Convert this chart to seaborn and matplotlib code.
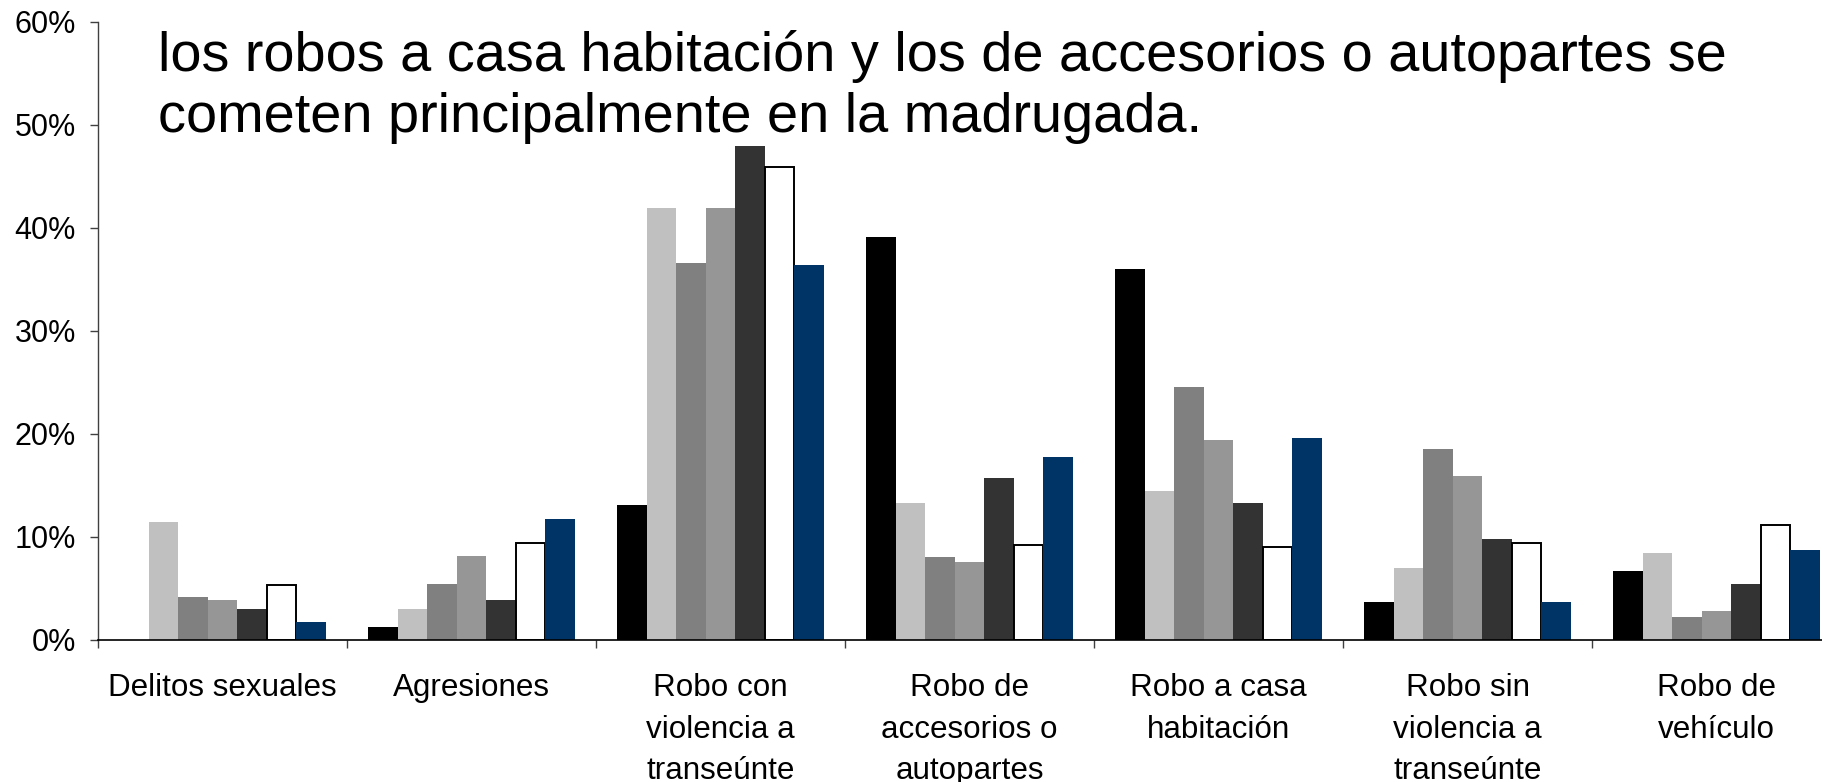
import pandas as pd
import seaborn as sns
import matplotlib.pyplot as plt
from matplotlib.ticker import FuncFormatter, FixedLocator


CATEGORIES = [
    "Delitos sexuales",
    "Agresiones",
    "Robo con\nviolencia a\ntranseúnte",
    "Robo de\naccesorios o\nautopartes",
    "Robo a casa\nhabitación",
    "Robo sin\nviolencia a\ntranseúnte",
    "Robo de\nvehículo",
]
SERIES = ["Serie 1", "Serie 2", "Serie 3", "Serie 4", "Serie 5", "Serie 6", "Serie 7"]

# percentages, one list per series
serie_1 = [0.0, 1.3, 13.1, 39.1, 36.0, 3.7, 6.7]
serie_2 = [11.5, 3.0, 41.9, 13.3, 14.5, 7.0, 8.4]
serie_3 = [4.2, 5.4, 36.6, 8.1, 24.6, 18.5, 2.2]
serie_4 = [3.9, 8.2, 41.9, 7.6, 19.4, 15.9, 2.8]
serie_5 = [3.0, 3.9, 48.0, 15.7, 13.3, 9.8, 5.4]
serie_6 = [5.3, 9.4, 45.9, 9.2, 9.0, 9.4, 11.2]
serie_7 = [1.7, 11.7, 36.4, 17.8, 19.6, 3.7, 8.7]

COLORS = ["#000000", "#C0C0C0", "#808080", "#969696", "#333333", "#FFFFFF", "#003366"]

TITLE_LINES = [
    "los robos a casa habitación y los de accesorios o autopartes se",
    "cometen principalmente en la madrugada.",
]


def build_frame():
    values = [serie_1, serie_2, serie_3, serie_4, serie_5, serie_6, serie_7]
    rows = []
    for name, vals in zip(SERIES, values):
        for cat, v in zip(CATEGORIES, vals):
            rows.append({"delito": cat, "serie": name, "pct": v})
    return pd.DataFrame(rows)


def plot(df):
    sns.set_style("white")
    plt.rcParams["font.family"] = ["Liberation Sans", "DejaVu Sans"]
    for key in ["text.color", "axes.labelcolor", "xtick.labelcolor", "ytick.labelcolor"]:
        plt.rcParams[key] = "black"

    fig = plt.figure(figsize=(18.22, 7.82), dpi=100)
    ax = fig.add_axes([0.0538, 0.1816, 0.9567, 0.7903])

    sns.barplot(data=df, x="delito", y="pct", hue="serie", order=CATEGORIES,
                hue_order=SERIES, palette=COLORS, saturation=1, width=0.83,
                linewidth=0, legend=False, ax=ax)

    # white series gets a black outline
    for bar in ax.containers[5]:
        bar.set_edgecolor("black")
        bar.set_linewidth(1.4)

    ax.set_xlim(-0.5, 6.5)
    ax.set_ylim(0, 60)
    ax.set_xlabel("")
    ax.set_ylabel("")

    ax.set_yticks(range(0, 61, 10))
    ax.yaxis.set_major_formatter(FuncFormatter(lambda v, p: f"{v:.0f}%"))
    ax.tick_params(axis="y", direction="out", length=6, width=1, color="#404040",
                   labelsize=22, pad=10, left=True, labelcolor="black")

    ax.xaxis.set_minor_locator(FixedLocator([i - 0.5 for i in range(8)]))
    ax.tick_params(axis="x", which="major", length=0, labelsize=22.6, pad=24,
                   labelcolor="black")
    ax.tick_params(axis="x", which="minor", direction="out", length=6, width=1,
                   color="#404040", bottom=True)
    for lbl in ax.get_xticklabels():
        lbl.set_linespacing(1.5)
        lbl.set_horizontalalignment("center")

    sns.despine(ax=ax)
    ax.spines["left"].set_color("#404040")
    ax.spines["left"].set_linewidth(1)
    ax.spines["bottom"].set_color("black")
    ax.spines["bottom"].set_linewidth(1.2)

    fig.text(158 / 1822, 1 - 71 / 782, TITLE_LINES[0], fontsize=40.2,
             va="baseline", ha="left", color="black")
    fig.text(158 / 1822, 1 - 132 / 782, TITLE_LINES[1], fontsize=40.2,
             va="baseline", ha="left", color="black")

    fig.savefig("out.png", dpi=100)


if __name__ == "__main__":
    data = build_frame()
    plot(data)
